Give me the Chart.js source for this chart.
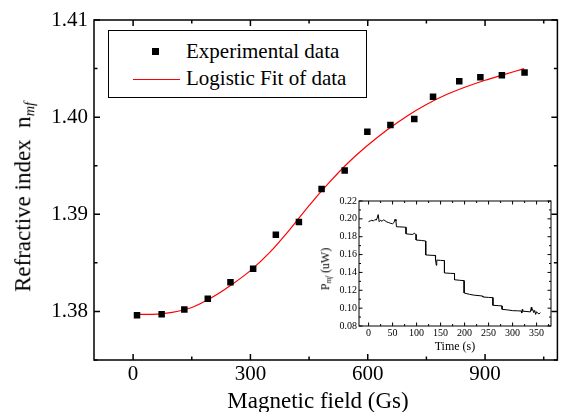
<!DOCTYPE html>
<html>
<head>
<meta charset="utf-8">
<script src="https://cdn.jsdelivr.net/npm/chart.js@4.4.0/dist/chart.umd.min.js"></script>
<style>
  body { margin: 0; background: #fff; }
  #wrap { position: relative; width: 562px; height: 412px; overflow: hidden; background: #fff;
          font-family: "Liberation Serif", "Times New Roman", serif; color: #000; }
  canvas { position: absolute; left: 0; top: 0; pointer-events: none; }
  .txt { position: absolute; white-space: nowrap; line-height: 1; }
  .rot { transform: translate(-50%, -50%) rotate(-90deg); }
  .hc { transform: translateX(-50%); }
  sub { font-style: italic; font-size: 62%; vertical-align: -0.3em; }
  #legend { position: absolute; left: 108px; top: 30px; width: 259px; height: 68px;
            box-sizing: border-box; border: 1px solid #000; background: #fff; }
</style>
</head>
<body>
<div id="wrap">
  <canvas id="main" width="562" height="412"></canvas>
  <canvas id="inset" width="562" height="412"></canvas>

  <div id="legend"></div>
  <div style="position:absolute;left:152px;top:48px;width:7px;height:7px;background:#000"></div>
  <div style="position:absolute;left:133px;top:79px;width:47px;height:1.3px;background:#ff0000"></div>
  <div class="txt" style="left:186px;top:41px;font-size:21px">Experimental data</div>
  <div class="txt" style="left:186px;top:68px;font-size:21px">Logistic Fit of data</div>

  <div class="txt rot" style="left:24px;top:197px;font-size:23px">Refractive index&nbsp; n<sub>mf</sub></div>
  <div class="txt hc" style="left:318px;top:389px;font-size:23px">Magnetic field (Gs)</div>
  <div class="txt rot" style="left:326px;top:269px;font-size:12px">P<sub>mf</sub> (uW)</div>
  <div class="txt hc" style="left:455px;top:340px;font-size:12px">Time (s)</div>
</div>
<script>
// main plot: refractive index vs magnetic field
const fieldGs = [10, 73, 131, 191, 249, 307, 365, 424, 482, 541, 599, 658, 719, 767, 834, 888, 943, 1001];
const nExp = [1.3796, 1.3797, 1.3802, 1.3813, 1.3830, 1.3844, 1.3879, 1.3892, 1.3926, 1.3945,
              1.3985, 1.3992, 1.3998, 1.4021, 1.4037, 1.4041, 1.4043, 1.4046];

// logistic fit curve
const fitGs = [10, 50, 100, 150, 200, 250, 300, 350, 400, 450, 500, 550, 600, 650, 700, 750, 800, 850, 900, 950, 1000];
const fitN = [1.3797, 1.3797, 1.3799, 1.3804, 1.3814, 1.3827, 1.3842, 1.3861, 1.3884, 1.3909, 1.3932,
              1.3953, 1.3971, 1.3987, 1.4001, 1.4013, 1.4023, 1.4031, 1.4038, 1.4044, 1.4050];

const xMajor = [0, 300, 600, 900];
const xMinor = [150, 450, 750, 1050];
const yMajor = [1.38, 1.39, 1.40, 1.41];
const yMinor = [1.375, 1.385, 1.395, 1.405];

// inset: power vs time (staircase)
const timeS = [0, 4, 7, 10, 13, 16, 18, 20, 22, 25, 28, 31, 34, 38, 42, 46, 50, 53, 55, 57, 58, 65, 72, 78,
               78, 85, 92, 95, 97, 99, 99, 110, 119, 119, 130, 139, 139, 140, 141, 142, 150, 158, 158, 170,
               179, 179, 190, 199, 199, 210, 220, 230, 238, 238, 250, 259, 259, 270, 278, 278, 290, 300,
               310, 318, 319, 320, 321, 330, 337, 339, 340, 342, 344, 346, 348, 350, 352, 355, 358];
const powerUW = [0.1970, 0.1978, 0.1985, 0.1975, 0.1992, 0.1986, 0.2010, 0.2048, 0.1968, 0.1985, 0.1972,
                 0.1990, 0.1980, 0.1965, 0.1958, 0.1950, 0.1945, 0.1960, 0.1995, 0.1975, 0.1912, 0.1910,
                 0.1908, 0.1905, 0.1833, 0.1828, 0.1825, 0.1840, 0.1830, 0.1825, 0.1763, 0.1758, 0.1752,
                 0.1596, 0.1592, 0.1590, 0.1545, 0.1540, 0.1480, 0.1538, 0.1535, 0.1532, 0.1394, 0.1390,
                 0.1388, 0.1318, 0.1312, 0.1308, 0.1170, 0.1155, 0.1145, 0.1140, 0.1135, 0.1125, 0.1120,
                 0.1118, 0.1032, 0.1028, 0.1025, 0.0987, 0.0980, 0.0972, 0.0970, 0.0968, 0.0945, 0.0985,
                 0.0966, 0.0962, 0.0958, 0.1010, 0.0975, 0.0985, 0.0950, 0.0975, 0.0930, 0.0960, 0.0945,
                 0.0935, 0.0950];

const tMajor = [0, 50, 100, 150, 200, 250, 300, 350];
const tMinor = [-25, 25, 75, 125, 175, 225, 275, 325, 375];
const pMajor = [0.08, 0.10, 0.12, 0.14, 0.16, 0.18, 0.20, 0.22];
const pMinor = [0.09, 0.11, 0.13, 0.15, 0.17, 0.19, 0.21];

const serif = "'Liberation Serif', 'Times New Roman', serif";

// box frame with inward ticks on all four sides
const frameTicks = {
  id: 'frameTicks',
  afterDatasetsDraw(chart, args, o) {
    const { ctx, chartArea: a, scales } = chart;
    ctx.save();
    ctx.strokeStyle = '#000';
    ctx.lineWidth = o.lineWidth;
    ctx.strokeRect(a.left, a.top, a.right - a.left, a.bottom - a.top);
    ctx.beginPath();
    const tx = (vals, len) => vals.forEach(v => {
      const p = scales.x.getPixelForValue(v);
      if (p < a.left || p > a.right) return;
      ctx.moveTo(p, a.bottom); ctx.lineTo(p, a.bottom - len);
      ctx.moveTo(p, a.top); ctx.lineTo(p, a.top + len);
    });
    const ty = (vals, len) => vals.forEach(v => {
      const p = scales.y.getPixelForValue(v);
      if (p < a.top - 0.5 || p > a.bottom) return;
      ctx.moveTo(a.left, p); ctx.lineTo(a.left + len, p);
      ctx.moveTo(a.right, p); ctx.lineTo(a.right - len, p);
    });
    tx(o.xMajor, o.major); tx(o.xMinor, o.minor);
    ty(o.yMajor, o.major); ty(o.yMinor, o.minor);
    ctx.stroke();
    ctx.restore();
  }
};

new Chart(document.getElementById('main'), {
  type: 'scatter',
  data: {
    datasets: [
      {
        label: 'Experimental data',
        data: fieldGs.map((x, i) => ({ x: x, y: nExp[i] })),
        pointStyle: 'rect',
        pointRadius: 4.6,
        backgroundColor: '#000',
        borderColor: '#000',
        borderWidth: 0
      },
      {
        label: 'Logistic Fit of data',
        data: fitGs.map((x, i) => ({ x: x, y: fitN[i] })),
        showLine: true,
        pointRadius: 0,
        borderColor: '#ff0000',
        borderWidth: 1.2,
        cubicInterpolationMode: 'monotone'
      }
    ]
  },
  options: {
    responsive: false,
    animation: false,
    layout: { padding: { left: 0, top: 20, right: 1, bottom: 0 } },
    plugins: {
      legend: { display: false },
      tooltip: { enabled: false },
      frameTicks: { lineWidth: 1.5, major: 6, minor: 3.5, xMajor, xMinor, yMajor, yMinor }
    },
    scales: {
      x: {
        type: 'linear', min: -100, max: 1085,
        grid: { display: false, drawTicks: false },
        border: { display: false },
        afterBuildTicks: s => { s.ticks = xMajor.map(v => ({ value: v })); },
        afterFit: s => { s.height = 52; },
        ticks: { color: '#000', padding: 2, maxRotation: 0, font: { family: serif, size: 21 }, callback: v => v }
      },
      y: {
        type: 'linear', min: 1.375, max: 1.41,
        grid: { display: false, drawTicks: false },
        border: { display: false },
        afterBuildTicks: s => { s.ticks = yMajor.map(v => ({ value: v })); },
        afterFit: s => { s.width = 94; },
        ticks: { color: '#000', padding: 6, font: { family: serif, size: 21 }, callback: v => v.toFixed(2) }
      }
    }
  },
  plugins: [frameTicks]
});

new Chart(document.getElementById('inset'), {
  type: 'scatter',
  data: {
    datasets: [{
      data: timeS.map((t, i) => ({ x: t, y: powerUW[i] })),
      showLine: true,
      pointRadius: 0,
      borderColor: '#000',
      borderWidth: 1,
      tension: 0
    }]
  },
  options: {
    responsive: false,
    animation: false,
    layout: { padding: { left: 300, top: 201, right: 11, bottom: 56 } },
    plugins: {
      legend: { display: false },
      tooltip: { enabled: false },
      frameTicks: { lineWidth: 1, major: 3.5, minor: 2, xMajor: tMajor, xMinor: tMinor, yMajor: pMajor, yMinor: pMinor }
    },
    scales: {
      x: {
        type: 'linear', min: -20, max: 380,
        grid: { display: false, drawTicks: false },
        border: { display: false },
        afterBuildTicks: s => { s.ticks = tMajor.map(v => ({ value: v })); },
        afterFit: s => { s.height = 30; },
        ticks: { color: '#000', padding: 1, maxRotation: 0, autoSkip: false, font: { family: serif, size: 10 }, callback: v => v }
      },
      y: {
        type: 'linear', min: 0.08, max: 0.22,
        grid: { display: false, drawTicks: false },
        border: { display: false },
        afterBuildTicks: s => { s.ticks = pMajor.map(v => ({ value: v })); },
        afterFit: s => { s.width = 59; },
        ticks: { color: '#000', padding: 2, autoSkip: false, font: { family: serif, size: 10 }, callback: v => v.toFixed(2) }
      }
    }
  },
  plugins: [frameTicks]
});
</script>
</body>
</html>
